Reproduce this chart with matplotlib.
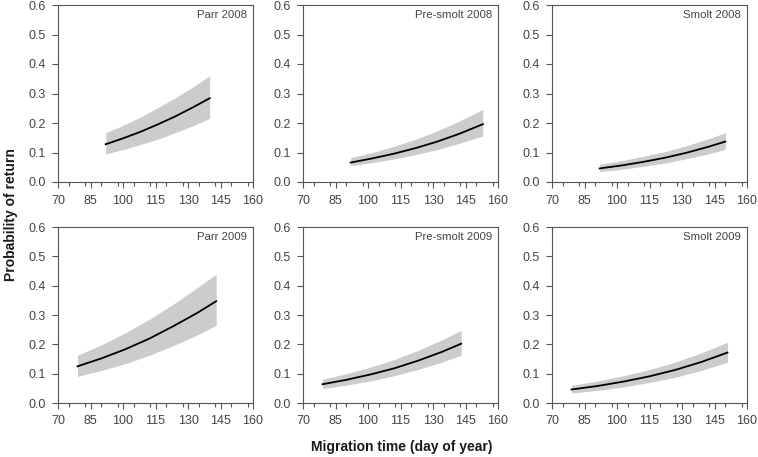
import matplotlib
matplotlib.use("Agg")
import matplotlib.pyplot as plt
from matplotlib.ticker import MultipleLocator

plt.rcParams['font.family'] = ['Liberation Sans', 'DejaVu Sans']

titles = ["Parr 2008", "Pre-smolt 2008", "Smolt 2008",
          "Parr 2009", "Pre-smolt 2009", "Smolt 2009"]

x_parr08 = [92, 100, 108, 116, 124, 132, 140]
m_parr08 = [0.128, 0.148, 0.170, 0.195, 0.222, 0.252, 0.284]
u_parr08 = [0.167, 0.192, 0.220, 0.252, 0.285, 0.321, 0.360]
l_parr08 = [0.095, 0.110, 0.127, 0.145, 0.167, 0.190, 0.216]

x_pre08 = [92, 102, 112, 122, 132, 142, 153]
m_pre08 = [0.066, 0.080, 0.096, 0.115, 0.137, 0.163, 0.196]
u_pre08 = [0.083, 0.100, 0.121, 0.145, 0.173, 0.206, 0.246]
l_pre08 = [0.055, 0.066, 0.078, 0.093, 0.110, 0.131, 0.156]

x_smo08 = [92, 102, 112, 122, 132, 142, 150]
m_smo08 = [0.046, 0.056, 0.068, 0.082, 0.099, 0.119, 0.137]
u_smo08 = [0.060, 0.072, 0.087, 0.103, 0.123, 0.146, 0.167]
l_smo08 = [0.035, 0.043, 0.053, 0.064, 0.079, 0.095, 0.111]

x_parr09 = [79, 90, 101, 112, 123, 134, 143]
m_parr09 = [0.125, 0.152, 0.183, 0.219, 0.261, 0.306, 0.347]
u_parr09 = [0.163, 0.198, 0.239, 0.285, 0.336, 0.392, 0.439]
l_parr09 = [0.091, 0.111, 0.134, 0.162, 0.195, 0.231, 0.265]

x_pre09 = [79, 90, 101, 112, 123, 134, 143]
m_pre09 = [0.064, 0.079, 0.097, 0.118, 0.144, 0.174, 0.202]
u_pre09 = [0.081, 0.100, 0.122, 0.148, 0.179, 0.215, 0.248]
l_pre09 = [0.049, 0.061, 0.075, 0.093, 0.114, 0.139, 0.163]

x_smo09 = [79, 91, 103, 115, 127, 139, 151]
m_smo09 = [0.046, 0.058, 0.073, 0.091, 0.113, 0.140, 0.172]
u_smo09 = [0.060, 0.075, 0.093, 0.114, 0.140, 0.171, 0.207]
l_smo09 = [0.034, 0.043, 0.055, 0.070, 0.088, 0.111, 0.139]

series = [
    (x_parr08, m_parr08, u_parr08, l_parr08),
    (x_pre08, m_pre08, u_pre08, l_pre08),
    (x_smo08, m_smo08, u_smo08, l_smo08),
    (x_parr09, m_parr09, u_parr09, l_parr09),
    (x_pre09, m_pre09, u_pre09, l_pre09),
    (x_smo09, m_smo09, u_smo09, l_smo09),
]

x_ticks = [70, 85, 100, 115, 130, 145, 160]
y_ticks = [0.0, 0.1, 0.2, 0.3, 0.4, 0.5, 0.6]

W, H = 758, 457
fig = plt.figure(figsize=(W / 100, H / 100), dpi=100)

lefts = [58, 303, 552]
rows = [(5, 182), (227, 403)]
aw = 195
spine_c = "#555555"
text_c = "#444444"

for i, (xs, m, u, l) in enumerate(series):
    r, c = divmod(i, 3)
    top, bot = rows[r]
    ax = fig.add_axes([lefts[c] / W, 1 - bot / H, aw / W, (bot - top) / H])
    ax.fill_between(xs, l, u, color="#cccccc", linewidth=0)
    ax.plot(xs, m, color="black", linewidth=1.3)
    ax.set_xlim(70, 160)
    ax.set_ylim(0, 0.6)
    ax.set_xticks(x_ticks)
    ax.set_yticks(y_ticks)
    ax.set_yticklabels([f"{v:.1f}" for v in y_ticks])
    ax.xaxis.set_minor_locator(MultipleLocator(7.5))
    for s in ax.spines.values():
        s.set_color(spine_c)
        s.set_linewidth(0.8)
    ax.tick_params(which="both", direction="out", color=spine_c, width=0.8,
                   labelsize=9, labelcolor=text_c, pad=5)
    ax.tick_params(which="major", length=4)
    ax.tick_params(which="minor", length=3)
    ax.text(0.97, 0.97, titles[i], transform=ax.transAxes, ha="right", va="top",
            fontsize=8.2, color=text_c)

fig.text(11 / W, 1 - 215 / H, "Probability of return", rotation=90,
         ha="center", va="center", fontsize=10, fontweight="bold", color="#1a1a1a")
fig.text(402 / W, 1 - 447 / H, "Migration time (day of year)",
         ha="center", va="center", fontsize=10, fontweight="bold", color="#1a1a1a")

fig.savefig("out.png", dpi=100)
